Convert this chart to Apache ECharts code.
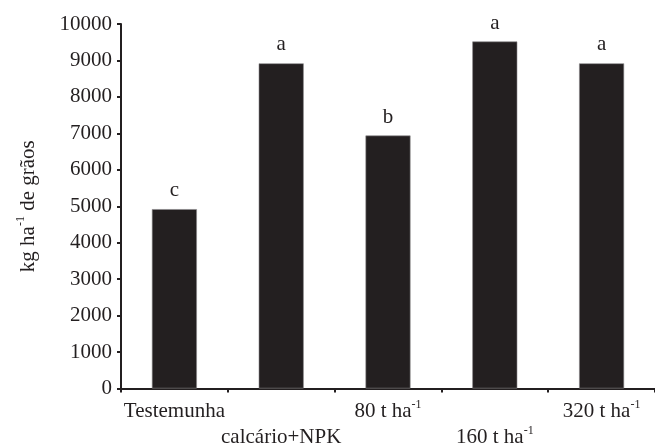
<!DOCTYPE html>
<html>
<head>
<meta charset="utf-8">
<script src="https://cdn.jsdelivr.net/npm/echarts@6/dist/echarts.min.js"></script>
<style>html,body{margin:0;padding:0;background:#fff}#c{width:655px;height:448px}</style>
</head>
<body>
<div id="c"></div>
<script>
var categories = ['Testemunha', 'calcário+NPK', '80 t ha-1', '160 t ha-1', '320 t ha-1'];
var values = [4920, 8920, 6940, 9520, 8920];
var letters = ['c', 'a', 'b', 'a', 'a'];
var yTicks = [0, 1000, 2000, 3000, 4000, 5000, 6000, 7000, 8000, 9000, 10000];

var ink = '#231f20';
var font = 'Liberation Serif';
function richLabel(v) {
  var m = v.match(/^(.*)-1$/);
  return m ? '{n|' + m[1] + '}{sup|-1}' : '{n|' + v + '}';
}
var chart = echarts.init(document.getElementById('c'), null, {renderer: 'canvas'});
chart.setOption({
  animation: false,
  backgroundColor: '#fff',
  grid: {left: 121, top: 24, bottom: 54, right: -6, containLabel: false},
  xAxis: {
    type: 'category',
    data: categories,
    axisLine: {lineStyle: {color: ink, width: 2}},
    axisTick: {show: true, alignWithLabel: false, length: 4, lineStyle: {color: ink, width: 2}},
    axisLabel: {
      interval: 0,
      margin: 10,
      color: ink,
      fontFamily: font,
      fontSize: 21,
      formatter: function (v, i) {
        return (i % 2 === 1 ? '{n|}\n' : '') + richLabel(v);
      },
      rich: {
        n: {fontFamily: font, fontSize: 21, color: ink, lineHeight: 26},
        sup: {fontFamily: font, fontSize: 12, color: ink, lineHeight: 26, verticalAlign: 'top'}
      }
    }
  },
  yAxis: {
    type: 'value',
    min: 0, max: 10000, interval: 1000,
    name: 'kg ha{sup|-1} de grãos',
    nameLocation: 'middle',
    nameGap: 80,
    nameRotate: 90,
    nameTextStyle: {
      fontFamily: font, fontSize: 21, color: ink,
      rich: {sup: {fontFamily: font, fontSize: 12, color: ink, verticalAlign: 'top', lineHeight: 26}}
    },
    axisLine: {show: true, lineStyle: {color: ink, width: 2}},
    axisTick: {show: true, length: 4, lineStyle: {color: ink, width: 2}},
    axisLabel: {
      margin: 9, color: ink, fontFamily: font, fontSize: 21,
      formatter: function (v) { return yTicks.indexOf(v) >= 0 ? String(v) : ''; }
    },
    splitLine: {show: false}
  },
  series: [{
    type: 'bar',
    data: values,
    barWidth: 45,
    itemStyle: {color: ink, borderColor: '#8a8889', borderWidth: 0.6},
    label: {
      show: true,
      position: 'top',
      distance: 8,
      color: ink,
      fontFamily: font,
      fontSize: 21,
      formatter: function (p) { return letters[p.dataIndex]; }
    }
  }]
});
</script>
</body>
</html>
